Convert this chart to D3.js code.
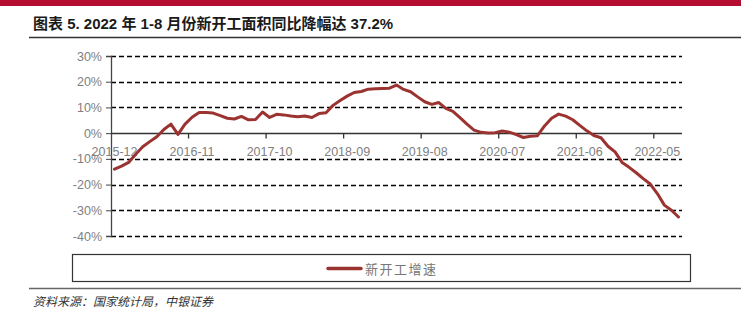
<!DOCTYPE html>
<html>
<head>
<meta charset="utf-8">
<script src="https://cdn.jsdelivr.net/npm/d3@7"></script>
<style>
  body { margin: 0; background: #fff; }
  svg { display: block; }
  .tick-label { font-family: "Liberation Sans", Arial, sans-serif; font-size: 12.5px; fill: #808080; }
</style>
</head>
<body>
<div id="chart"></div>
<script>
// 新开工面积累计同比 (%), 2015-12 .. 2022-08
const months = [
  '2015-12', '2016-01', '2016-02', '2016-03', '2016-04', '2016-05', '2016-06', '2016-07', '2016-08', '2016-09', '2016-10',
  '2016-11', '2016-12', '2017-01', '2017-02', '2017-03', '2017-04', '2017-05', '2017-06', '2017-07', '2017-08', '2017-09',
  '2017-10', '2017-11', '2017-12', '2018-01', '2018-02', '2018-03', '2018-04', '2018-05', '2018-06', '2018-07', '2018-08',
  '2018-09', '2018-10', '2018-11', '2018-12', '2019-01', '2019-02', '2019-03', '2019-04', '2019-05', '2019-06', '2019-07',
  '2019-08', '2019-09', '2019-10', '2019-11', '2019-12', '2020-01', '2020-02', '2020-03', '2020-04', '2020-05', '2020-06',
  '2020-07', '2020-08', '2020-09', '2020-10', '2020-11', '2020-12', '2021-01', '2021-02', '2021-03', '2021-04', '2021-05',
  '2021-06', '2021-07', '2021-08', '2021-09', '2021-10', '2021-11', '2021-12', '2022-01', '2022-02', '2022-03', '2022-04',
  '2022-05', '2022-06', '2022-07', '2022-08'
];
const growth = [
  -14.0, -12.8, -11.4, -8.2, -5.3, -3.3, -1.4, 1.4, 3.5, -0.5, 3.5,
  6.2, 8.0, 8.0, 7.8, 6.8, 5.8, 5.5, 6.5, 5.2, 5.3, 8.2,
  6.1, 7.3, 7.1, 6.7, 6.4, 6.7, 6.1, 7.6, 7.9, 10.8, 12.7,
  14.4, 15.8, 16.2, 17.1, 17.3, 17.4, 17.5, 18.7, 17.0, 16.1, 14.1,
  12.2, 11.2, 11.9, 9.6, 8.5, 6.0, 3.5, 1.2, 0.3, 0.1, 0.2,
  0.8, 0.4, -0.6, -1.7, -1.2, -1.0, 2.8, 5.8, 7.4, 6.6, 5.2,
  3.0, 0.9, -0.9, -1.8, -5.1, -7.3, -11.4, -13.3, -15.4, -17.7, -19.8,
  -23.5, -28.0, -30.0, -32.6
];
const yTicks = [30, 20, 10, 0, -10, -20, -30, -40];
const xLabelEvery = 11;
const seriesName = '新开工增速';
const titleText = '图表 5. 2022 年 1-8 月份新开工面积同比降幅达 37.2%';
const sourceText = '资料来源：国家统计局，中银证券';

const width = 741, height = 310;
const plot = { left: 111, right: 682, top: 56, bottom: 236 };
const lineColor = '#9b3331';

const svg = d3.select('#chart').append('svg')
  .attr('width', width).attr('height', height)
  .attr('viewBox', `0 0 ${width} ${height}`);

// header
svg.append('rect').attr('x', 0).attr('y', 0).attr('width', width).attr('height', 6).attr('fill', '#b30d2f');
svg.append('text')
  .attr('x', 33).attr('y', 29)
  .style('font-family', '"Liberation Sans", "Noto Sans CJK SC", sans-serif')
  .style('font-size', '15px').style('font-weight', 'bold').attr('fill', '#1a1a1a')
  .text(titleText);
svg.append('line').attr('x1', 29).attr('x2', width).attr('y1', 37.5).attr('y2', 37.5)
  .attr('stroke', '#333').attr('stroke-width', 1.5);

const x = d3.scaleBand().domain(months).range([plot.left, plot.right]).paddingInner(0).paddingOuter(0);
const y = d3.scaleLinear().domain([-40, 30]).range([plot.bottom, plot.top]);

// dashed grid
svg.append('g').selectAll('line')
  .data(yTicks.filter((d) => d !== 0))
  .join('line')
  .attr('x1', plot.left).attr('x2', plot.right)
  .attr('y1', (d) => Math.round(y(d)) + 0.5).attr('y2', (d) => Math.round(y(d)) + 0.5)
  .attr('stroke', '#000').attr('stroke-width', 1.3).attr('stroke-dasharray', '5,3');

// y axis
const yAxis = svg.append('g')
  .attr('transform', `translate(${plot.left},0)`)
  .call(d3.axisLeft(y).tickValues(yTicks).tickSize(5).tickFormat((d) => d + '%'));
yAxis.select('.domain').attr('stroke', '#444').attr('stroke-width', 1.3);
yAxis.selectAll('.tick line').attr('stroke', '#444');
yAxis.selectAll('.tick text').attr('class', 'tick-label').attr('x', -9).style('font-family', null).style('font-size', null).attr('fill', null);
yAxis.attr('font-family', null).attr('font-size', null);

// zero line + category ticks
const y0 = Math.round(y(0)) + 0.5;
svg.append('line').attr('x1', plot.left).attr('x2', plot.right).attr('y1', y0).attr('y2', y0)
  .attr('stroke', '#333').attr('stroke-width', 1.5);
const labelled = months.filter((m, i) => i % xLabelEvery === 0);
svg.append('g').selectAll('line')
  .data(labelled.slice(1))
  .join('line')
  .attr('x1', (d) => x(d)).attr('x2', (d) => x(d))
  .attr('y1', y0).attr('y2', y0 + 5)
  .attr('stroke', '#333').attr('stroke-width', 1.3);
svg.append('g').selectAll('text')
  .data(labelled)
  .join('text')
  .attr('class', 'tick-label')
  .attr('x', (d) => x(d) + x.bandwidth() / 2)
  .attr('y', y0 + 22)
  .attr('text-anchor', 'middle')
  .text((d) => d);

// series line
const line = d3.line()
  .x((d, i) => x(months[i]) + x.bandwidth() / 2)
  .y((d) => y(d))
  .curve(d3.curveLinear);
svg.append('path')
  .datum(growth)
  .attr('d', line)
  .attr('fill', 'none')
  .attr('stroke', lineColor)
  .attr('stroke-width', 3)
  .attr('stroke-linejoin', 'round')
  .attr('stroke-linecap', 'round');

// legend
svg.append('rect').attr('x', 72.5).attr('y', 254.5).attr('width', 618).attr('height', 27)
  .attr('fill', '#fff').attr('stroke', '#333').attr('stroke-width', 1.2);
svg.append('line').attr('x1', 328).attr('x2', 361).attr('y1', 268.5).attr('y2', 268.5)
  .attr('stroke', lineColor).attr('stroke-width', 3.5).attr('stroke-linecap', 'round');
svg.append('text').attr('x', 365).attr('y', 273.5)
  .style('font-family', '"Noto Sans CJK SC", sans-serif').style('font-size', '13px')
  .style('letter-spacing', '1.5px').attr('fill', '#777')
  .text(seriesName);

// footer
svg.append('line').attr('x1', 29).attr('x2', width).attr('y1', 288.5).attr('y2', 288.5)
  .attr('stroke', '#666').attr('stroke-width', 1.5);
svg.append('text').attr('x', 33).attr('y', 306)
  .style('font-family', '"Noto Sans CJK SC", sans-serif').style('font-size', '12px')
  .style('font-style', 'italic').attr('fill', '#333')
  .text(sourceText);
</script>
</body>
</html>
